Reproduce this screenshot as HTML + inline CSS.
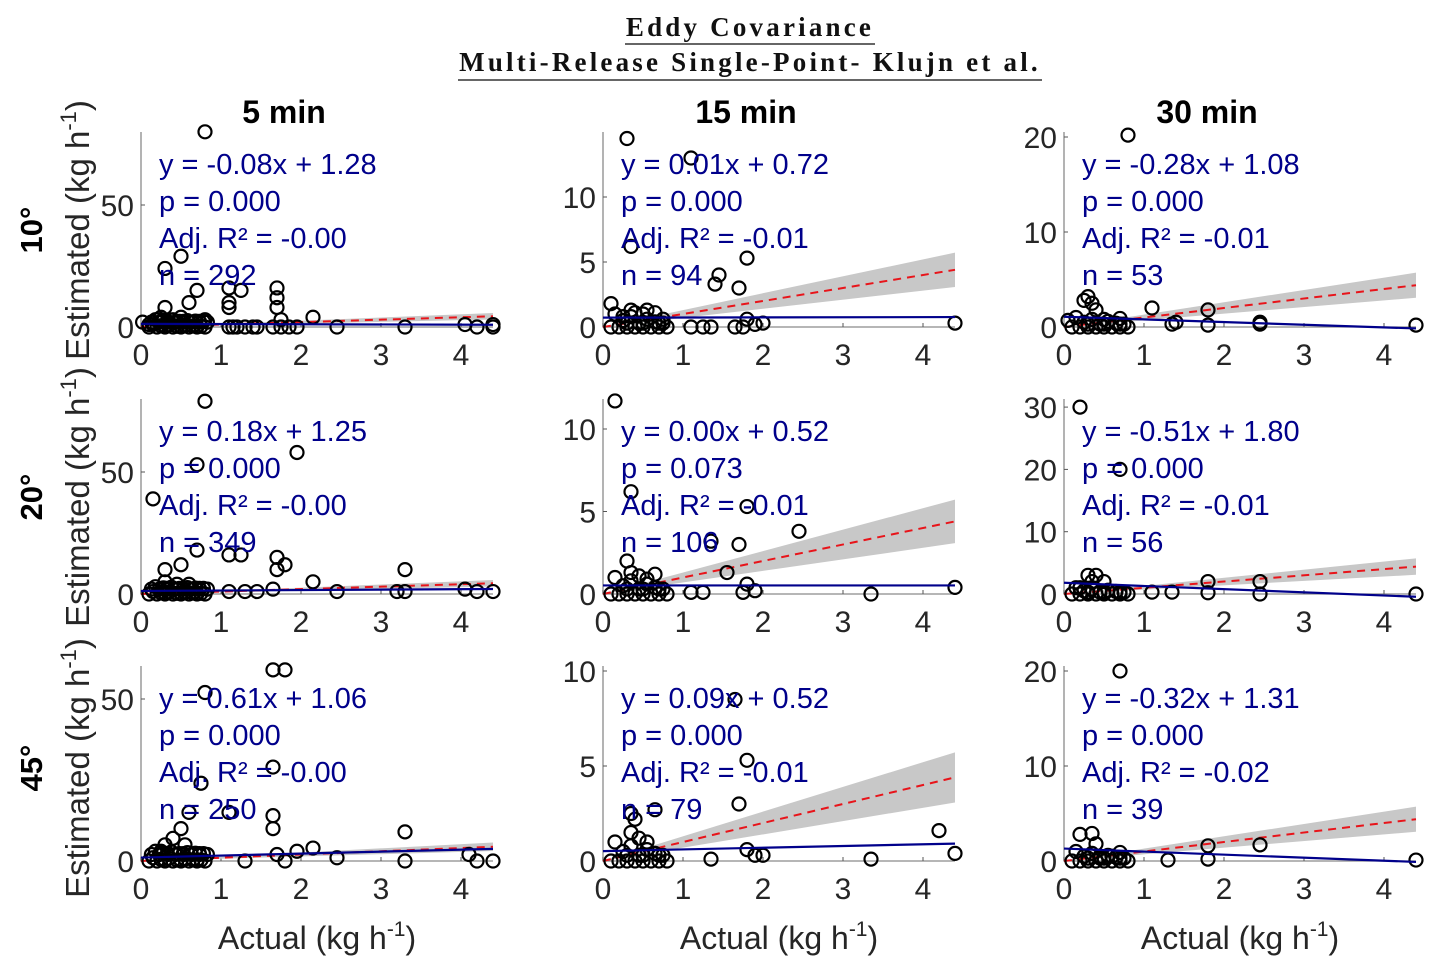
<!DOCTYPE html>
<html><head><meta charset="utf-8"><style>
body{margin:0;background:#fff;}
svg{display:block;font-family:"Liberation Sans",sans-serif;}
</style></head><body>
<svg id="fig" width="1436" height="971" viewBox="0 0 1436 971">
<g font-family="Liberation Serif, serif" font-weight="bold" font-size="27" fill="#111" text-anchor="middle" letter-spacing="3.2">
<text x="750" y="36">Eddy Covariance</text>
<line x1="625" y1="44" x2="875" y2="44" stroke="#333" stroke-width="1.5"/>
<text x="750" y="71">Multi-Release Single-Point- Klujn et al.</text>
<line x1="458" y1="80" x2="1042" y2="80" stroke="#333" stroke-width="1.5"/>
</g>
<g id="panels"></g>
</svg>
<script>
const colX0=[141,603,1064];
const rowY0=[327,594,861];
const colTitles=["5 min","15 min","30 min"];
const rowTitles=["10°","20°","45°"];
const xTicks=[0,1,2,3,4];
const pxPerUnitY=[[2.44,13,9.5],[2.44,16.5,6.23],[3.24,19,9.5]];
const yTicks=[[[0,50],[0,5,10],[0,10,20]],[[0,50],[0,5,10],[0,10,20,30]],[[0,50],[0,5,10],[0,10,20]]];
const fitSlope=[[-0.08,0.01,-0.28],[0.18,0.00,-0.51],[0.61,0.09,-0.32]];
const fitIntercept=[[1.28,0.72,1.08],[1.25,0.52,1.80],[1.06,0.52,1.31]];
const pValues=[["0.000","0.000","0.000"],["0.000","0.073","0.000"],["0.000","0.000","0.000"]];
const adjR2=[["-0.00","-0.01","-0.01"],["-0.00","-0.01","-0.01"],["-0.00","-0.01","-0.02"]];
const nCounts=[["292","94","53"],["349","106","56"],["250","79","39"]];
const cluster=[[0.1,0],[0.15,1],[0.2,0],[0.25,0.5],[0.3,0],[0.35,0.8],[0.4,0],[0.45,0.3],[0.5,0],[0.55,0.6],[0.6,0],[0.65,0.4],[0.7,0],[0.75,0.3],[0.8,0],[0.3,0.3],[0.5,0.3],[0.7,0.3]];
const pts=[
[[[0.02,2],[0.1,1],[0.2,3],[0.25,4],[0.3,8],[0.3,24],[0.4,3],[0.5,29],[0.5,4],[0.6,10],[0.7,15],[0.8,80],[0.8,3],[0.45,2],[1.1,0],[1.15,0],[1.2,0],[1.1,10],[1.1,8],[1.1,16],[1.25,15],[1.3,0],[1.4,0],[1.45,0],[1.65,0],[1.7,12],[1.7,16],[1.7,8],[1.75,3],[1.75,0],[1.85,0],[1.95,0],[2.15,4],[2.45,0],[3.3,0],[4.05,1],[4.2,0],[4.4,0],[4.4,1]],
 [[0.1,1.8],[0.3,14.5],[0.35,6.2],[0.35,1.3],[0.4,1.1],[0.5,1.0],[0.55,1.3],[0.65,1.1],[0.75,0.6],[0.25,0.8],[1.1,13],[1.1,0],[1.25,0],[1.35,0],[1.4,3.3],[1.45,4],[1.65,0],[1.7,3],[1.75,0],[1.8,5.3],[1.8,0.6],[1.9,0.2],[2.0,0.3],[4.4,0.3]],
 [[0.05,0.7],[0.25,2.8],[0.3,3.2],[0.35,2.5],[0.4,1.8],[0.5,0.8],[0.7,0.9],[0.8,20.2],[1.1,2],[1.35,0.3],[1.4,0.5],[1.8,0.2],[1.8,1.8],[2.45,0.5],[2.45,0.3],[4.4,0.2]]],
[[[0.15,39],[0.3,10],[0.5,12],[0.3,5],[0.45,4],[0.7,53],[0.8,79],[0.7,18],[0.6,4],[1.1,16],[1.25,16],[1.1,1],[1.3,1],[1.45,1],[1.7,15],[1.7,10],[1.8,12],[1.65,2],[1.95,58],[2.15,5],[2.45,1],[3.2,1],[3.3,10],[3.3,1],[4.05,2],[4.2,1],[4.4,1]],
 [[0.15,11.7],[0.35,6.2],[0.35,1.3],[0.45,1.1],[0.55,0.9],[0.65,1.2],[0.3,2.0],[1.1,0.1],[1.25,0.1],[1.35,3.2],[1.55,1.3],[1.7,3],[1.75,0.1],[1.8,5.3],[1.8,0.6],[1.9,0.2],[2.45,3.8],[3.35,0],[4.4,0.4]],
 [[0.2,30],[0.7,20],[0.2,1],[0.3,3],[0.4,3],[0.5,2],[0.35,2],[1.1,0.3],[1.35,0.3],[1.8,2],[1.8,0.2],[2.45,2],[2.45,0],[4.4,0]]],
[[[0.8,52],[1.65,59],[1.8,59],[1.65,29],[0.75,24],[0.6,15],[1.1,15],[1.65,14],[1.65,10],[3.3,9],[3.3,0],[2.45,1],[1.95,3],[2.15,4],[4.1,2],[4.2,0],[4.4,0],[0.4,7],[0.5,10],[0.3,5],[0.55,5],[0.25,3],[1.3,0],[1.8,0],[1.7,2]],
 [[0.35,2.5],[1.65,8.5],[1.8,5.3],[1.7,3],[0.65,2.7],[0.35,1.5],[0.4,2.2],[0.45,1.2],[0.55,1.0],[4.2,1.6],[4.4,0.4],[3.35,0.1],[1.35,0.1],[1.9,0.3],[2.0,0.3],[1.8,0.6]],
 [[0.7,20],[0.2,2.8],[0.35,2.9],[0.4,1.8],[0.45,0.5],[0.6,0.5],[0.7,0.9],[1.3,0.1],[1.8,1.6],[1.8,0.2],[2.45,1.7],[4.4,0.1]]]
];
const NS="http://www.w3.org/2000/svg";
const root=document.getElementById('panels');
function mk(tag,attrs,parent,txt){const e=document.createElementNS(NS,tag);for(const k in attrs)e.setAttribute(k,attrs[k]);if(txt!==undefined)e.textContent=txt;parent.appendChild(e);return e;}
const XMAX=4.4, PXX=80;
for(let c=0;c<3;c++){
  const t=mk('text',{x:colX0[c]+143,y:123,'text-anchor':'middle','font-weight':'bold','font-size':32,fill:'#000'},root,colTitles[c]);
  
  
  const xl=mk('text',{x:colX0[c]+176,y:949,'text-anchor':'middle','font-size':32,fill:'#262626'},root);
  
  
  xl.innerHTML='Actual (kg h<tspan dy="-13" font-size="21">-1</tspan><tspan dy="13">)</tspan>';
}
for(let r=0;r<3;r++){
  const cy=[230,497,768][r];
  const rt=mk('text',{transform:`translate(42,${cy}) rotate(-90)`,'text-anchor':'middle','font-weight':'bold','font-size':31,fill:'#000'},root,rowTitles[r]);
  
  
  const yl=mk('text',{transform:`translate(89,${cy}) rotate(-90)`,'text-anchor':'middle','font-size':33,fill:'#262626'},root);
  
  
  yl.innerHTML='Estimated (kg h<tspan dy="-13" font-size="22">-1</tspan><tspan dy="13">)</tspan>';
  for(let c=0;c<3;c++){
    const x0=colX0[c], y0=rowY0[r], ky=pxPerUnitY[r][c];
    const X=v=>x0+v*PXX, Y=v=>y0-v*ky;
    const g=mk('g',{},root);
    
    
    const top=y0-195;
    mk('path',{d:`M${x0},${top}V${y0}H${X(XMAX)}`,fill:'none',stroke:'#8a8a8a','stroke-width':1.3},g);
    xTicks.forEach(v=>{
      mk('line',{x1:X(v),y1:y0,x2:X(v),y2:y0-4,stroke:'#555'},g);
      const tl=mk('text',{x:X(v),y:y0+38,'text-anchor':'middle','font-size':30,fill:'#262626'},g,v);
      
      
    });
    yTicks[r][c].forEach(v=>{
      mk('line',{x1:x0,y1:Y(v),x2:x0+4,y2:Y(v),stroke:'#555'},g);
      const tl=mk('text',{x:x0-7,y:Y(v)+11,'text-anchor':'end','font-size':30,fill:'#262626'},g,v);
      
      
    });
    const band=mk('path',{d:`M${X(0)},${Y(0)}L${X(XMAX)},${Y(XMAX*1.3)}L${X(XMAX)},${Y(XMAX*0.7)}Z`,fill:'#c8c8c8',stroke:'none'},g);
    
    
    const ref=mk('line',{x1:X(0),y1:Y(0),x2:X(XMAX),y2:Y(XMAX),stroke:'#e8141a','stroke-width':2,'stroke-dasharray':'8,6'},g);
    
    
    const all=(c===0?cluster.concat(cluster.map(p=>[p[0]+0.03,p[1]+2])):cluster).concat(pts[r][c]);
    all.forEach(p=>{
      const ci=mk('circle',{cx:X(p[0]),cy:Y(p[1]),r:6.5,fill:'none',stroke:'#000','stroke-width':2.2},g);
      
      
    });
    const a=fitSlope[r][c], b=fitIntercept[r][c];
    const fl=mk('line',{x1:X(0),y1:Y(b),x2:X(XMAX),y2:Y(a*XMAX+b),stroke:'#00008b','stroke-width':2.2},g);
    
    
    const lines=[`y = ${a.toFixed(2)}x + ${b.toFixed(2)}`,`p = ${pValues[r][c]}`,`Adj. R² = ${adjR2[r][c]}`,`n = ${nCounts[r][c]}`];
    lines.forEach((s,i)=>{
      const st=mk('text',{x:x0+18,y:y0-153+i*37,'font-size':29,fill:'#00008b'},g,s);
      
      
    });
  }
}
</script>
</body></html>
